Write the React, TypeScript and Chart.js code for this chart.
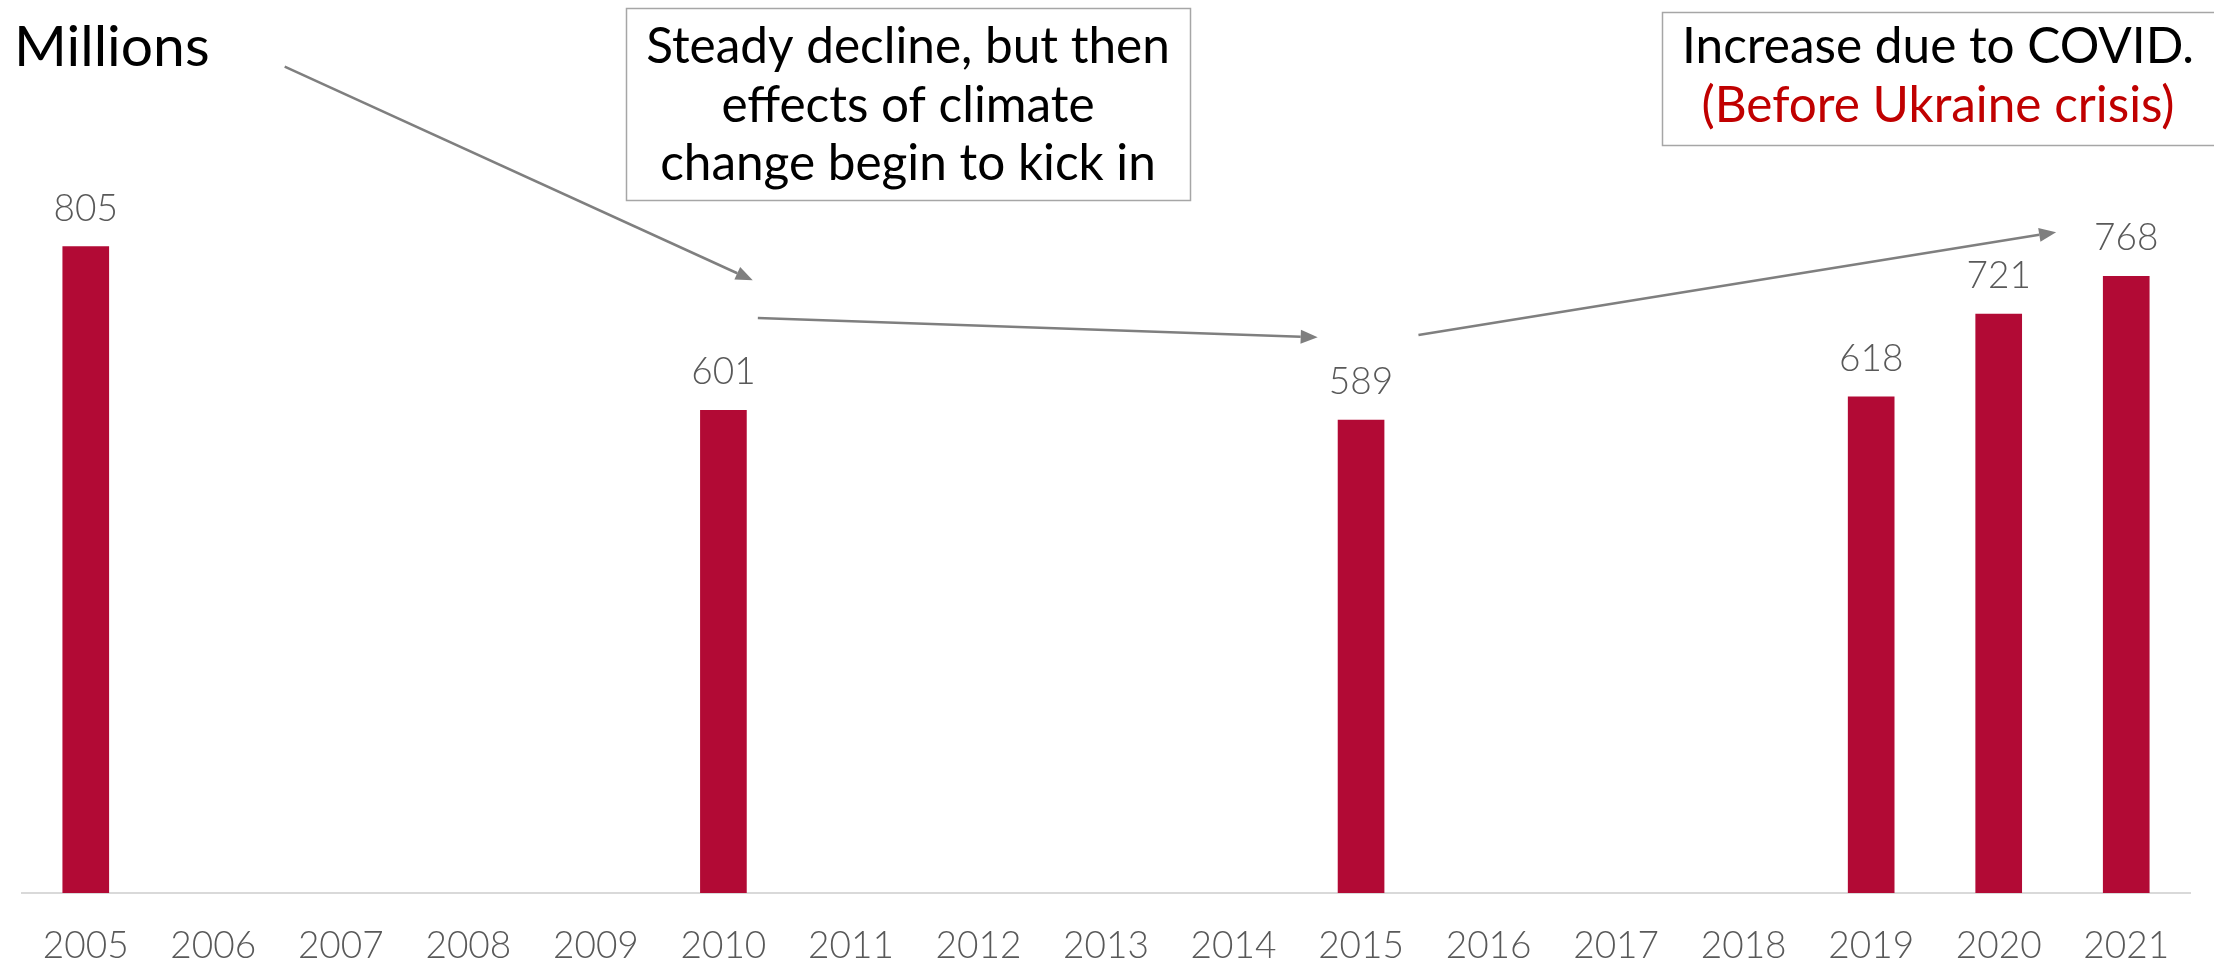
import React, { useEffect, useRef } from 'react';
import { Chart, registerables } from 'chart.js';

Chart.register(...registerables);

// ---- data ----
const years: string[] = ['2005', '2006', '2007', '2008', '2009', '2010', '2011', '2012', '2013', '2014', '2015', '2016', '2017', '2018', '2019', '2020', '2021'];
const hungerMillions: (number | null)[] = [805, null, null, null, null, 601, null, null, null, null, 589, null, null, null, 618, 721, 768];
const yMin = 0;
const yMax = 1000;
const unitLabel = 'Millions';
const note1Lines: string[] = ['Steady decline, but then', 'effects of climate', 'change begin to kick in'];
const note2Line1 = 'Increase due to COVID.';
const note2Line2 = '(Before Ukraine crisis)';

// arrows in data space: [category index, value]
const arrowFrom: [number, number][] = [[1.56, 1029], [5.27, 716], [10.45, 695]];
const arrowTo: [number, number][] = [[5.23, 763], [9.66, 692], [15.45, 823]];

const BAR_COLOR = '#B20A35';
const LABEL_COLOR = '#595959';
const ARROW_COLOR = '#7F7F7F';
const FONT = 'Lato, "Open Sans", sans-serif';

function drawArrow(ctx: CanvasRenderingContext2D, x1: number, y1: number, x2: number, y2: number) {
  const ang = Math.atan2(y2 - y1, x2 - x1);
  const headLen = 17;
  const headHalf = 7;
  const bx = x2 - headLen * Math.cos(ang);
  const by = y2 - headLen * Math.sin(ang);
  ctx.strokeStyle = ARROW_COLOR;
  ctx.fillStyle = ARROW_COLOR;
  ctx.lineWidth = 2.5;
  ctx.beginPath();
  ctx.moveTo(x1, y1);
  ctx.lineTo(bx, by);
  ctx.stroke();
  ctx.beginPath();
  ctx.moveTo(x2, y2);
  ctx.lineTo(bx + headHalf * Math.sin(ang), by - headHalf * Math.cos(ang));
  ctx.lineTo(bx - headHalf * Math.sin(ang), by + headHalf * Math.cos(ang));
  ctx.closePath();
  ctx.fill();
}

const overlayPlugin = {
  id: 'overlay',
  afterDatasetsDraw(chart: any) {
    const ctx: CanvasRenderingContext2D = chart.ctx;
    const meta = chart.getDatasetMeta(0);
    const xs = chart.scales.x;
    const ys = chart.scales.y;
    ctx.save();
    // value labels
    ctx.font = `300 37px ${FONT}`;
    ctx.fillStyle = LABEL_COLOR;
    ctx.textAlign = 'center';
    ctx.textBaseline = 'middle';
    meta.data.forEach((el: any, i: number) => {
      const v = hungerMillions[i];
      if (v == null) return;
      ctx.fillText(String(v), el.x, el.y - 38);
    });

    // unit label
    ctx.font = `400 57px ${FONT}`;
    ctx.fillStyle = '#000000';
    ctx.textAlign = 'left';
    ctx.textBaseline = 'alphabetic';
    ctx.fillText(unitLabel, 14, 66);

    // note boxes
    ctx.strokeStyle = '#A6A6A6';
    ctx.lineWidth = 1.5;
    ctx.strokeRect(626.5, 8.5, 564, 192);
    ctx.strokeRect(1662.5, 12.5, 600, 133);

    ctx.font = `400 49.5px ${FONT}`;
    ctx.textAlign = 'center';
    ctx.textBaseline = 'middle';
    ctx.fillStyle = '#000000';
    const l1y = [47, 106, 164];
    note1Lines.forEach((t, i) => ctx.fillText(t, 908, l1y[i]));
    ctx.fillText(note2Line1, 1938, 47);
    ctx.fillStyle = '#C00000';
    ctx.fillText(note2Line2, 1938, 106);

    // arrows
    arrowFrom.forEach((f, i) => {
      const t = arrowTo[i];
      drawArrow(
        ctx,
        xs.getPixelForValue(f[0]),
        ys.getPixelForValue(f[1]),
        xs.getPixelForValue(t[0]),
        ys.getPixelForValue(t[1])
      );
    });
    ctx.restore();
  },
};

export default function App() {
  const ref = useRef<HTMLCanvasElement | null>(null);
  useEffect(() => {
    if (!ref.current) return;
    const chart = new Chart(ref.current, {
      type: 'bar',
      data: {
        labels: years,
        datasets: [
          {
            data: hungerMillions as any,
            backgroundColor: BAR_COLOR,
            borderWidth: 0,
            barThickness: 46,
          },
        ],
      },
      options: {
        responsive: false,
        animation: false,
        layout: { padding: { left: 22, right: 24, top: 90, bottom: 0 } },
        plugins: {
          legend: { display: false },
          tooltip: { enabled: false },
        },
        scales: {
          x: {
            grid: { display: false, drawTicks: false },
            border: { display: true, color: '#D9D9D9', width: 2 },
            ticks: {
              color: LABEL_COLOR,
              font: { family: FONT, size: 37, weight: '300' as any },
              padding: 31,
              maxRotation: 0,
              autoSkip: false,
            },
            afterFit: (scale: any) => {
              scale.height = 70;
            },
          },
          y: {
            display: false,
            min: yMin,
            max: yMax,
          },
        },
      },
      plugins: [overlayPlugin],
    });
    return () => chart.destroy();
  }, []);
  return (
    <div style={{ position: 'absolute', left: 0, top: 0, width: 2214, height: 963, background: '#fff' }}>
      <canvas ref={ref} width={2214} height={963} style={{ display: 'block' }} />
    </div>
  );
}
